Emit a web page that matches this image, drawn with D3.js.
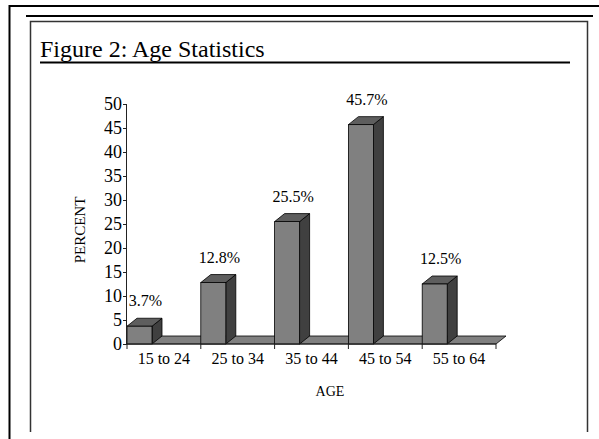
<!DOCTYPE html>
<html>
<head>
<meta charset="utf-8">
<script src="https://cdn.jsdelivr.net/npm/d3@7"></script>
<style>
  body { margin: 0; background: #fff; }
  svg { display: block; }
  text { font-family: "Liberation Serif", "Times New Roman", serif; fill: #000; }
</style>
</head>
<body>
<svg width="599" height="439"></svg>
<script>
// chart data
const ageGroups = ["15 to 24", "25 to 34", "35 to 44", "45 to 54", "55 to 64"];
const percents = [3.7, 12.8, 25.5, 45.7, 12.5];
const valueLabels = ["3.7%", "12.8%", "25.5%", "45.7%", "12.5%"];
const yTicks = [0, 5, 10, 15, 20, 25, 30, 35, 40, 45, 50];

window.onload = () => {
  const svg = d3.select("svg");

  // page frames
  svg.append("line").attr("x1", 9).attr("x2", 599).attr("y1", 6).attr("y2", 6)
    .attr("stroke", "#000").attr("stroke-width", 2);
  svg.append("line").attr("x1", 9.5).attr("x2", 9.5).attr("y1", 5).attr("y2", 439)
    .attr("stroke", "#000").attr("stroke-width", 2);
  svg.append("line").attr("x1", 26).attr("x2", 593).attr("y1", 16).attr("y2", 16)
    .attr("stroke", "#000").attr("stroke-width", 2);
  svg.append("path")
    .attr("d", "M30.5,432 V21.5 H587.5 V432")
    .attr("fill", "none").attr("stroke", "#333").attr("stroke-width", 1.5);

  // title
  svg.append("text").attr("x", 40).attr("y", 57)
    .style("font-size", "24px").text("Figure 2: Age Statistics");
  svg.append("line").attr("x1", 40).attr("x2", 570).attr("y1", 62.5).attr("y2", 62.5)
    .attr("stroke", "#000").attr("stroke-width", 2);

  const x0 = 127, x1 = 496;
  const depthX = 10, depthY = 8;
  const barW = 25;

  const xScale = d3.scaleBand().domain(ageGroups).range([x0, x1]);
  const yScale = d3.scaleLinear().domain([0, 50]).range([344, 104]);
  const base = yScale(0);

  // floor
  svg.append("path")
    .attr("d", `M${x0},${base} L${x1},${base} L${x1 + depthX},${base - depthY} L${x0 + depthX},${base - depthY} Z`)
    .attr("fill", "#808080").attr("stroke", "#000").attr("stroke-width", 0.8);

  // bars
  const bars = svg.append("g").selectAll("g").data(percents).enter().append("g");
  bars.each(function (d, i) {
    const g = d3.select(this);
    const bx = xScale(ageGroups[i]);
    const top = yScale(d);
    g.append("path") // side
      .attr("d", `M${bx + barW},${top} L${bx + barW + depthX},${top - depthY} L${bx + barW + depthX},${base - depthY} L${bx + barW},${base} Z`)
      .attr("fill", "#404040").attr("stroke", "#000").attr("stroke-width", 0.8);
    g.append("path") // top
      .attr("d", `M${bx},${top} L${bx + depthX},${top - depthY} L${bx + barW + depthX},${top - depthY} L${bx + barW},${top} Z`)
      .attr("fill", "#5e5e5e").attr("stroke", "#000").attr("stroke-width", 0.8);
    g.append("rect") // front
      .attr("x", bx).attr("y", top).attr("width", barW).attr("height", base - top)
      .attr("fill", "#808080").attr("stroke", "#000").attr("stroke-width", 0.8);
    g.append("text")
      .attr("x", bx + (barW + depthX) / 2 + 1)
      .attr("y", top - depthY - 12)
      .attr("text-anchor", "middle")
      .style("font-size", "16px")
      .text(valueLabels[i]);
  });

  // y axis
  const yAxis = d3.axisLeft(yScale).tickValues(yTicks).tickSize(4).tickPadding(1).tickFormat(d3.format("d"));
  const gy = svg.append("g").attr("transform", `translate(${x0},0)`).call(yAxis);
  gy.attr("font-family", null).attr("font-size", "18px");
  gy.select(".domain").attr("stroke", "#222").attr("d", `M-0.5,${base}V${yScale(50)}`);
  gy.selectAll(".tick line").attr("stroke", "#222");
  gy.selectAll(".tick text").attr("font-size", "18px").style("font-size", "18px").attr("fill", "#000");

  // x axis
  const gx = svg.append("g").attr("transform", `translate(0,${base})`);
  gx.append("line").attr("x1", x0).attr("x2", x1).attr("y1", 0).attr("y2", 0).attr("stroke", "#222");
  gx.selectAll("line.tk").data(ageGroups.concat(["end"])).enter().append("line")
    .attr("class", "tk")
    .attr("x1", (d, i) => i < ageGroups.length ? xScale(d) : x1)
    .attr("x2", (d, i) => i < ageGroups.length ? xScale(d) : x1)
    .attr("y1", 0).attr("y2", 5).attr("stroke", "#222");
  gx.selectAll("text").data(ageGroups).enter().append("text")
    .attr("x", d => xScale(d) + xScale.bandwidth() / 2)
    .attr("y", 20)
    .attr("text-anchor", "middle")
    .style("font-size", "16px")
    .text(d => d);

  // axis titles
  svg.append("text").attr("x", 330).attr("y", 396).attr("text-anchor", "middle")
    .style("font-size", "14px").text("AGE");
  svg.append("text").attr("transform", "translate(85,230) rotate(-90)").attr("text-anchor", "middle")
    .style("font-size", "15px").text("PERCENT");
};
</script>
</body>
</html>
